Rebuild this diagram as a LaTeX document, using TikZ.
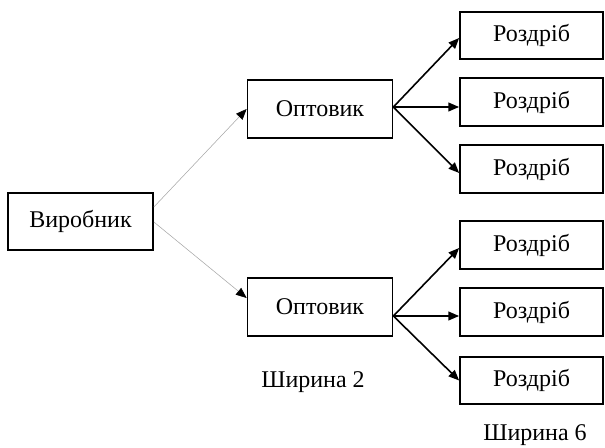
\documentclass[tikz,border=0pt]{standalone}
\usepackage{fontspec}
\setmainfont{Liberation Serif}
\usetikzlibrary{arrows.meta,calc}
\begin{document}
\begin{tikzpicture}[x=0.75pt,y=-0.75pt,
  box/.style={draw=black,line width=1.3pt,inner sep=0pt,font=\fontsize{18}{21}\selectfont},
  bigbox/.style={box,minimum width=108.75pt,minimum height=43pt},
  smallbox/.style={box,minimum width=107.25pt,minimum height=35.5pt},
  thin/.style={draw=gray!70,line width=0.4pt,-{Triangle[length=8pt,width=6.5pt,fill=black,color=black]}},
  thick/.style={draw=black,line width=1.2pt,-{Triangle[length=8pt,width=6.5pt]}},
  lbl/.style={font=\fontsize{18}{21}\selectfont,inner sep=0pt}]
\useasboundingbox (0,0) rectangle (605,448);
\node[bigbox] (vyr) at (80.5,221.5) {Виробник};
\node[bigbox] (opt1) at (320,109) {Оптовик};
\node[bigbox] (opt2) at (320,307) {Оптовик};
\node[smallbox] (r1) at (531.5,35.5) {Роздріб};
\node[smallbox] (r2) at (531.5,102) {Роздріб};
\node[smallbox] (r3) at (531.5,169) {Роздріб};
\node[smallbox] (r4) at (531.5,245) {Роздріб};
\node[smallbox] (r5) at (531.5,312) {Роздріб};
\node[smallbox] (r6) at (531.5,380.5) {Роздріб};
\node[lbl] (w2) at (313,382) {Ширина 2};
\node[lbl] (w6) at (535,435) {Ширина 6};
\coordinate (va) at ($(vyr.east)+(0,-14.5)$);
\coordinate (vb) at ($(vyr.east)+(0,0.5)$);
\coordinate (f1) at ($(opt1.east)+(0,-2)$);
\coordinate (f2) at ($(opt2.east)+(0,9)$);
\draw[thin] (va) -- (opt1.west);
\draw[thin] (vb) -- ($(opt2.west)+(0,-9)$);
\draw[thick] (f1) -- ($(r1.west)+(0,2.5)$);
\draw[thick] (f1) -- ($(r2.west)+(0,5)$);
\draw[thick] (f1) -- ($(r3.west)+(0,4)$);
\draw[thick] (f2) -- ($(r4.west)+(0,3)$);
\draw[thick] (f2) -- ($(r5.west)+(0,4)$);
\draw[thick] (f2) -- (r6.west);
\end{tikzpicture}
\end{document}
